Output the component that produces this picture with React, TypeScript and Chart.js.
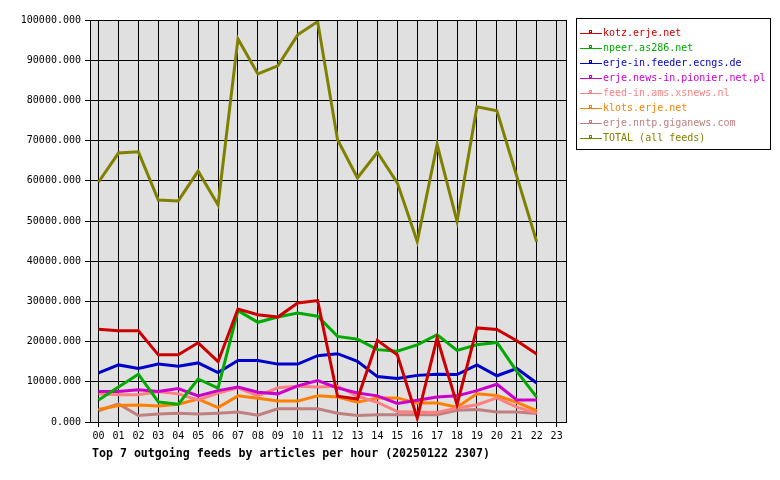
import React, { useEffect, useRef } from "react";
import { Chart, registerables } from "chart.js";

Chart.register(...registerables);

const HOURS = ["00","01","02","03","04","05","06","07","08","09","10","11","12","13","14","15","16","17","18","19","20","21","22","23"];

const FEED_NAMES = [
  "kotz.erje.net",
  "npeer.as286.net",
  "erje-in.feeder.ecngs.de",
  "erje.news-in.pionier.net.pl",
  "feed-in.ams.xsnews.nl",
  "klots.erje.net",
  "erje.nntp.giganews.com",
  "TOTAL (all feeds)",
];

const FEED_COLORS = ["#cc0000", "#00aa00", "#0000cc", "#cc00cc", "#ff8080", "#ff8000", "#c08080", "#808000"];

const KOTZ = [23100, 22700, 22700, 16700, 16700, 19700, 15000, 28100, 26700, 26100, 29600, 30200, 6400, 5700, 20300, 16700, 1000, 20900, 4300, 23400, 23000, 20200, 16900];
const NPEER = [5500, 8700, 11900, 5000, 4400, 10700, 8400, 27700, 24800, 26100, 27100, 26300, 21300, 20600, 18000, 17600, 19200, 21700, 17800, 19200, 19800, 12600, 6200];
const ECNGS = [12200, 14200, 13300, 14400, 13900, 14700, 12300, 15300, 15300, 14400, 14400, 16500, 17000, 15100, 11300, 10800, 11600, 11900, 11800, 14200, 11500, 13300, 9700];
const PIONIER = [7600, 7600, 8000, 7600, 8300, 6500, 7800, 8700, 7400, 7000, 9000, 10300, 8500, 7200, 6500, 4600, 5400, 6200, 6500, 7800, 9400, 5500, 5500];
const XSNEWS = [7000, 6800, 6800, 7500, 7000, 5500, 7200, 8500, 6500, 8500, 8900, 8700, 8900, 6400, 4900, 2600, 2400, 2400, 3500, 4300, 6000, 3700, 2200];
const KLOTS = [3100, 4100, 4200, 4000, 4400, 5700, 3600, 6500, 5900, 5200, 5200, 6500, 6200, 4900, 6000, 6000, 4700, 4700, 3700, 7000, 6600, 4900, 2800];
const GIGANEWS = [2800, 4500, 1600, 2000, 2200, 2000, 2200, 2500, 1700, 3300, 3300, 3300, 2200, 1600, 1800, 1800, 1800, 1800, 2900, 3100, 2500, 2500, 2100];
const TOTAL = [59700, 66900, 67200, 55200, 55000, 62400, 54000, 95300, 86600, 88600, 96300, 99600, 70200, 60700, 67100, 59500, 44900, 69000, 49900, 78400, 77400, 61100, 44800];

const SERIES = [KOTZ, NPEER, ECNGS, PIONIER, XSNEWS, KLOTS, GIGANEWS, TOTAL];

const Y_TICKS_MAX = 100000;
const Y_STEP = 10000;
const TITLE = "Top 7 outgoing feeds by articles per hour (20250122 2307)";

const MONO = "'DejaVu Sans Mono', monospace";

const decorPlugin = {
  id: "decor",
  beforeDraw(chart: any) {
    const { ctx, chartArea } = chart;
    ctx.save();
    ctx.fillStyle = "#ffffff";
    ctx.fillRect(0, 0, chart.width, chart.height);
    ctx.fillStyle = "#e0e0e0";
    ctx.fillRect(chartArea.left, chartArea.top, chartArea.right - chartArea.left, chartArea.bottom - chartArea.top);
    ctx.restore();
  },
  afterDraw(chart: any) {
    const { ctx, chartArea } = chart;
    ctx.save();
    // frame
    ctx.strokeStyle = "#000";
    ctx.lineWidth = 1;
    ctx.strokeRect(chartArea.left + 0.5, chartArea.top + 0.5, chartArea.right - chartArea.left, chartArea.bottom - chartArea.top);
    // legend
    const lx = 576.5, ly = 18.5, lw = 194, lh = 131;
    ctx.fillStyle = "#fff";
    ctx.fillRect(lx, ly, lw, lh);
    ctx.strokeRect(lx, ly, lw, lh);
    ctx.font = "10px " + MONO;
    ctx.textBaseline = "middle";
    ctx.textAlign = "left";
    chart.data.datasets.forEach((ds: any, i: number) => {
      const y = 33.5 + 15 * i;
      ctx.strokeStyle = ds.borderColor;
      ctx.lineWidth = 1;
      ctx.beginPath();
      ctx.moveTo(580, y);
      ctx.lineTo(602, y);
      ctx.stroke();
      ctx.strokeRect(589.5, y - 3, 2, 2);
      ctx.fillStyle = ds.borderColor;
      ctx.fillText(ds.label, 603, y);
    });
    // title
    ctx.fillStyle = "#000";
    ctx.font = "bold 11.6px " + MONO;
    ctx.textBaseline = "alphabetic";
    ctx.fillText(TITLE, 92, 456.5);
    ctx.restore();
  },
};

export default function App() {
  const ref = useRef<HTMLCanvasElement | null>(null);
  useEffect(() => {
    document.body.style.margin = "0";
    const canvas = ref.current;
    if (!canvas) return;
    const chart = new Chart(canvas, {
      type: "line",
      data: {
        datasets: SERIES.map((vals, i) => ({
          label: FEED_NAMES[i],
          data: vals.map((v, h) => ({ x: h, y: v })),
          borderColor: FEED_COLORS[i],
          backgroundColor: FEED_COLORS[i],
          borderWidth: 3,
          pointRadius: 0,
          tension: 0,
          fill: false,
        })),
      },
      options: {
        animation: false,
        responsive: false,
        devicePixelRatio: 1,
        events: [],
        layout: { padding: { left: 0, top: 20, right: 214, bottom: 0 } },
        plugins: { legend: { display: false }, title: { display: false }, tooltip: { enabled: false } },
        scales: {
          x: {
            type: "linear",
            min: -0.43,
            max: 23.47,
            afterFit: (s: any) => { s.height = 58; },
            ticks: {
              stepSize: 1,
              includeBounds: false,
              autoSkip: false,
              maxRotation: 0,
              padding: 3,
              color: "#000",
              font: { family: MONO, size: 10 },
              callback: (v: any) => HOURS[v as number] ?? "",
            },
            grid: { color: "#000", lineWidth: 1, tickLength: 5, drawTicks: true },
            border: { display: true, color: "#000" },
          },
          y: {
            type: "linear",
            min: 0,
            max: Y_TICKS_MAX,
            afterFit: (s: any) => { s.width = 90; },
            ticks: {
              stepSize: Y_STEP,
              padding: 4,
              color: "#000",
              font: { family: MONO, size: 10 },
              callback: (v: any) => Number(v).toFixed(3),
            },
            grid: { color: "#000", lineWidth: 1, tickLength: 5, drawTicks: true },
            border: { display: true, color: "#000" },
          },
        },
      },
      plugins: [decorPlugin],
    });
    return () => chart.destroy();
  }, []);
  return <canvas ref={ref} width={780} height={480} style={{ display: "block", width: "780px", height: "480px" }} />;
}
